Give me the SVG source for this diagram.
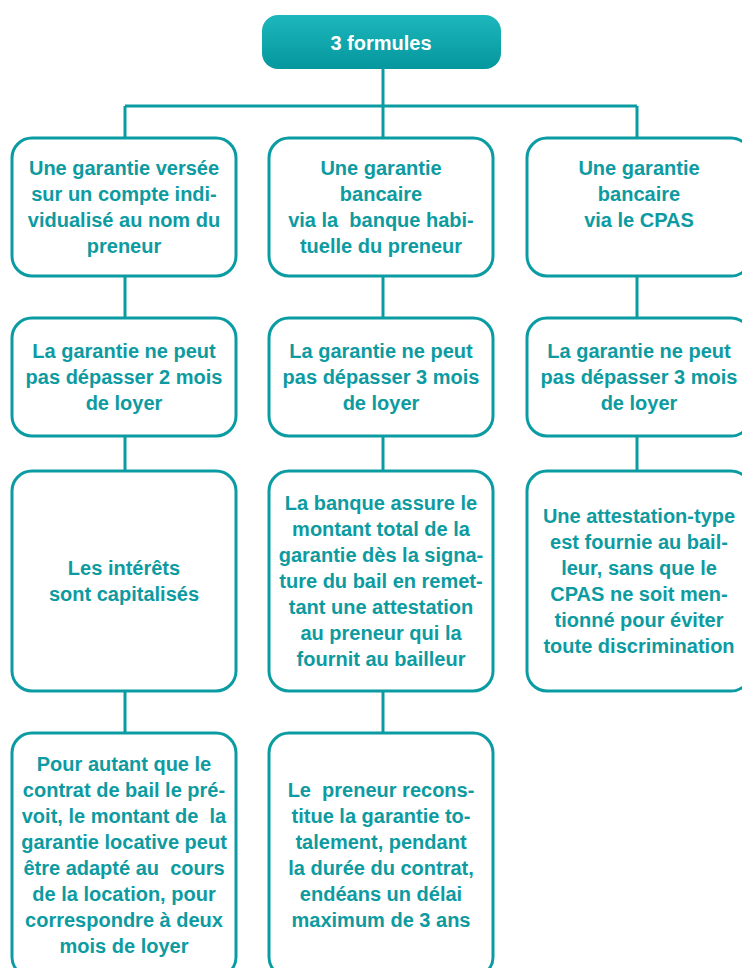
<svg xmlns="http://www.w3.org/2000/svg" width="742" height="968" viewBox="0 0 742 968">
<defs>
<linearGradient id="hdr" x1="0" y1="0" x2="0" y2="1">
<stop offset="0" stop-color="#1CB7BC"/>
<stop offset="1" stop-color="#05979D"/>
</linearGradient>
<style>
.box{fill:#ffffff;stroke:#0A9CA2;stroke-width:3}
.ln{fill:none;stroke:#0A9CA2;stroke-width:3}
.t{font-family:"Liberation Sans",Arial,sans-serif;font-weight:bold;font-size:20px;fill:#0D9BA1;text-anchor:middle;white-space:pre}
.h{font-family:"Liberation Sans",Arial,sans-serif;font-weight:bold;font-size:20px;fill:#ffffff;text-anchor:middle}
</style>
</defs>
<rect width="742" height="968" fill="#ffffff"/>
<g id="connectors">
<path class="ln" d="M383 69V106M125 106H637M125 106V138M383 106V138M637 106V138"/>
<path class="ln" d="M125 276V318M383 276V318M637 276V318"/>
<path class="ln" d="M125 436V471M383 436V471M637 436V471"/>
<path class="ln" d="M125 691V733M383 691V733"/>
</g>
<g id="top">
<rect x="262" y="15" width="239" height="54" rx="16" fill="url(#hdr)"/>
<text class="h" x="381" y="50">3 formules</text>
</g>
<g id="n1a">
<rect class="box" x="12" y="138" width="224" height="138" rx="20"/>
<text class="t" x="124" y="175">Une garantie versée</text>
<text class="t" x="124" y="201">sur un compte indi-</text>
<text class="t" x="124" y="227">vidualisé au nom du</text>
<text class="t" x="124" y="253">preneur</text>
</g>
<g id="n1b">
<rect class="box" x="269" y="138" width="224" height="138" rx="20"/>
<text class="t" x="381" y="175">Une garantie</text>
<text class="t" x="381" y="201">bancaire</text>
<text class="t" x="381" y="227">via la  banque habi-</text>
<text class="t" x="381" y="253">tuelle du preneur</text>
</g>
<g id="n1c">
<rect class="box" x="527" y="138" width="224" height="138" rx="20"/>
<text class="t" x="639" y="175">Une garantie</text>
<text class="t" x="639" y="201">bancaire</text>
<text class="t" x="639" y="227">via le CPAS</text>
</g>
<g id="n2a">
<rect class="box" x="12" y="318" width="224" height="118" rx="20"/>
<text class="t" x="124" y="358">La garantie ne peut</text>
<text class="t" x="124" y="384">pas dépasser 2 mois</text>
<text class="t" x="124" y="410">de loyer</text>
</g>
<g id="n2b">
<rect class="box" x="269" y="318" width="224" height="118" rx="20"/>
<text class="t" x="381" y="358">La garantie ne peut</text>
<text class="t" x="381" y="384">pas dépasser 3 mois</text>
<text class="t" x="381" y="410">de loyer</text>
</g>
<g id="n2c">
<rect class="box" x="527" y="318" width="224" height="118" rx="20"/>
<text class="t" x="639" y="358">La garantie ne peut</text>
<text class="t" x="639" y="384">pas dépasser 3 mois</text>
<text class="t" x="639" y="410">de loyer</text>
</g>
<g id="n3a">
<rect class="box" x="12" y="471" width="224" height="220" rx="20"/>
<text class="t" x="124" y="575">Les intérêts</text>
<text class="t" x="124" y="601">sont capitalisés</text>
</g>
<g id="n3b">
<rect class="box" x="269" y="471" width="224" height="220" rx="20"/>
<text class="t" x="381" y="510">La banque assure le</text>
<text class="t" x="381" y="536">montant total de la</text>
<text class="t" x="381" y="562">garantie dès la signa-</text>
<text class="t" x="381" y="588">ture du bail en remet-</text>
<text class="t" x="381" y="614">tant une attestation</text>
<text class="t" x="381" y="640">au preneur qui la</text>
<text class="t" x="381" y="666">fournit au bailleur</text>
</g>
<g id="n3c">
<rect class="box" x="527" y="471" width="224" height="220" rx="20"/>
<text class="t" x="639" y="523">Une attestation-type</text>
<text class="t" x="639" y="549">est fournie au bail-</text>
<text class="t" x="639" y="575">leur, sans que le</text>
<text class="t" x="639" y="601">CPAS ne soit men-</text>
<text class="t" x="639" y="627">tionné pour éviter</text>
<text class="t" x="639" y="653">toute discrimination</text>
</g>
<g id="n4a">
<rect class="box" x="12" y="733" width="224" height="244" rx="20"/>
<text class="t" x="124" y="771">Pour autant que le</text>
<text class="t" x="124" y="797">contrat de bail le pré-</text>
<text class="t" x="124" y="823">voit, le montant de  la</text>
<text class="t" x="124" y="849">garantie locative peut</text>
<text class="t" x="124" y="875">être adapté au  cours</text>
<text class="t" x="124" y="901">de la location, pour</text>
<text class="t" x="124" y="927">correspondre à deux</text>
<text class="t" x="124" y="953">mois de loyer</text>
</g>
<g id="n4b">
<rect class="box" x="269" y="733" width="224" height="244" rx="20"/>
<text class="t" x="381" y="797">Le  preneur recons-</text>
<text class="t" x="381" y="823">titue la garantie to-</text>
<text class="t" x="381" y="849">talement, pendant</text>
<text class="t" x="381" y="875">la durée du contrat,</text>
<text class="t" x="381" y="901">endéans un délai</text>
<text class="t" x="381" y="927">maximum de 3 ans</text>
</g>
</svg>
